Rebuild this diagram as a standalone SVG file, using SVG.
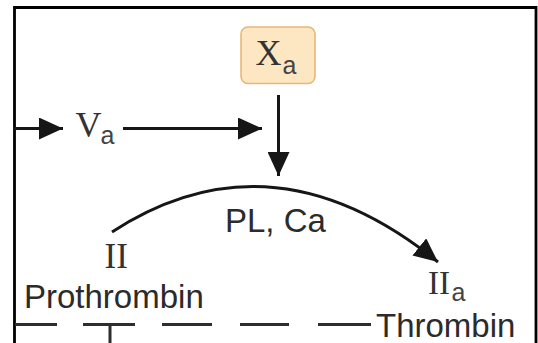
<svg xmlns="http://www.w3.org/2000/svg" width="538" height="343" viewBox="0 0 538 343">
<defs>
<style>
.serif{font-family:"Liberation Serif","Times New Roman",serif;fill:#333}
.sans{font-family:"Liberation Sans",Arial,sans-serif;fill:#2b2b2b}
.sub{font-family:"Liberation Sans",Arial,sans-serif;fill:#444;font-size:25px}
.ln{stroke:#161616;stroke-width:3;fill:none}
.dash{stroke:#2e2e2e;stroke-width:3;fill:none}
</style>
<marker id="ah" markerUnits="userSpaceOnUse" viewBox="0 0 24 22" refX="24" refY="11" markerWidth="24" markerHeight="22" orient="auto">
<path d="M0,0 L24,11 L0,22 z" fill="#161616"/>
</marker>
</defs>
<rect width="538" height="343" fill="#ffffff"/>
<path d="M14.5,345 V7.5 H536 V345" fill="none" stroke="#000" stroke-width="2.8"/>

<g id="connectors">
<line class="ln" x1="14" y1="128.5" x2="63" y2="128.5" marker-end="url(#ah)"/>
<line class="ln" x1="123" y1="128.5" x2="262" y2="128.5" marker-end="url(#ah)"/>
<line class="ln" x1="278.5" y1="95" x2="278.5" y2="176" marker-end="url(#ah)"/>
<path class="ln" d="M112,232 Q272,128 438,262" marker-end="url(#ah)"/>
<g class="dash">
<line x1="15" y1="324.5" x2="57" y2="324.5"/>
<line x1="83" y1="324.5" x2="135" y2="324.5"/>
<line x1="162" y1="324.5" x2="212" y2="324.5"/>
<line x1="240" y1="324.5" x2="289" y2="324.5"/>
<line x1="318" y1="324.5" x2="371" y2="324.5"/>
<line x1="110" y1="324.5" x2="110" y2="345"/>
</g>
</g>

<g id="node-Xa">
<rect x="241" y="27" width="74" height="56.5" rx="7" fill="#fde6c2" stroke="#e6b877" stroke-width="1.6"/>
<text class="serif" x="255.5" y="64.5" font-size="36">X</text>
<text class="sub" x="282.5" y="74">a</text>
</g>

<g id="node-Va">
<text class="serif" x="75.5" y="137" font-size="36" fill="#555">V</text>
<text class="sub" x="100.5" y="144">a</text>
</g>

<g id="node-PLCa">
<text class="sans" x="225" y="231.7" font-size="33">PL, Ca</text>
</g>

<g id="node-II">
<text class="serif" x="104.5" y="267.5" font-size="35">II</text>
<text class="sans" x="24" y="308.3" font-size="33">Prothrombin</text>
</g>

<g id="node-IIa">
<text class="serif" x="428" y="293.5" font-size="33">II</text>
<text class="sub" x="451.5" y="300.5">a</text>
<text class="sans" x="376" y="336.7" font-size="33">Thrombin</text>
</g>
</svg>
